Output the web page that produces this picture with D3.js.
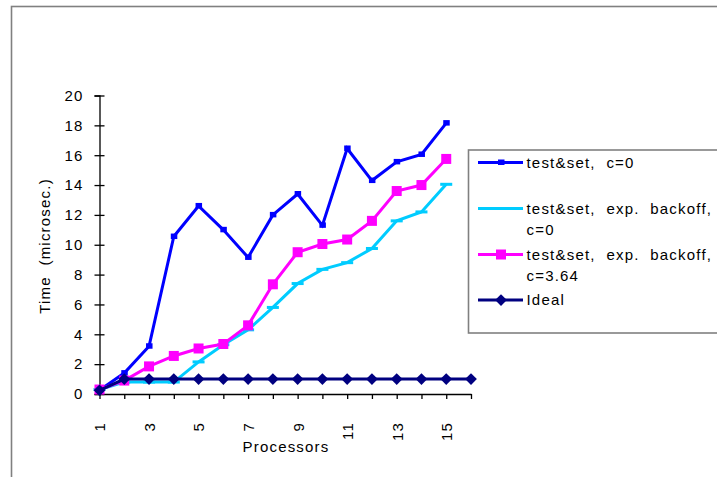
<!DOCTYPE html>
<html>
<head>
<meta charset="utf-8">
<script src="https://cdn.jsdelivr.net/npm/d3@7"></script>
<style>
  html, body { margin: 0; padding: 0; background: #fff; }
  svg { display: block; font-family: "Liberation Sans", Arial, sans-serif; }
  text { white-space: pre; }
</style>
</head>
<body>
<svg id="chart" width="717" height="477"></svg>
<script>
// ---- data ----
const categories = [1, 2, 3, 4, 5, 6, 7, 8, 9, 10, 11, 12, 13, 14, 15, 16];
const testSet = [0.25, 1.4, 3.2, 10.55, 12.6, 11.0, 9.15, 12.0, 13.4, 11.3, 16.45, 14.3, 15.55, 16.05, 18.15];
const expBackoff0 = [0.3, 0.8, 0.8, 0.8, 2.15, 3.3, 4.3, 5.8, 7.4, 8.35, 8.8, 9.75, 11.6, 12.2, 14.05];
const expBackoff364 = [0.3, 0.9, 1.85, 2.55, 3.05, 3.35, 4.6, 7.35, 9.5, 10.05, 10.35, 11.6, 13.6, 14.0, 15.75];
const ideal = [0.25, 1, 1, 1, 1, 1, 1, 1, 1, 1, 1, 1, 1, 1, 1, 1];
const yTicks = [0, 2, 4, 6, 8, 10, 12, 14, 16, 18, 20];
const xTickLabels = [1, 3, 5, 7, 9, 11, 13, 15];
const seriesNames = [["test&set,  c=0"], ["test&set,  exp.  backoff,", "c=0"], ["test&set,  exp.  backoff,", "c=3.64"], ["Ideal"]];

const series = [
  { name: seriesNames[0], values: testSet, color: "#0000FF", marker: "smallsquare" },
  { name: seriesNames[1], values: expBackoff0, color: "#00CCFF", marker: "dash" },
  { name: seriesNames[2], values: expBackoff364, color: "#FF00FF", marker: "square" },
  { name: seriesNames[3], values: ideal, color: "#000080", marker: "diamond" }
];

const svg = d3.select("#chart");
const FS = 15, LS = 1.2;

// outer frame
svg.append("rect").attr("x", 11.5).attr("y", 6.5).attr("width", 740).attr("height", 500)
  .attr("fill", "none").attr("stroke", "#808080").attr("stroke-width", 1.6);

const x = d3.scalePoint().domain(categories).range([99.5, 471]);
const y = d3.scaleLinear().domain([0, 20]).range([394, 95.5]);

// y axis
const yAxis = svg.append("g").attr("transform", "translate(99.5,0)")
  .call(d3.axisLeft(y).tickValues(yTicks).tickSize(5).tickPadding(11).tickFormat(d3.format("d")));
yAxis.select(".domain").attr("stroke", "#000").attr("stroke-width", 1.3);
yAxis.selectAll(".tick line").attr("x1", 5).attr("x2", -5).attr("stroke", "#000").attr("stroke-width", 1.3);
yAxis.selectAll(".tick text").attr("font-size", FS).attr("letter-spacing", LS).attr("fill", "#000")
  .attr("font-family", "Liberation Sans, Arial, sans-serif");

// x axis
const xAxis = svg.append("g").attr("transform", "translate(0,394)")
  .call(d3.axisBottom(x).tickSize(5).tickSizeOuter(0)
    .tickFormat(d => xTickLabels.includes(d) ? String(d) : ""));
xAxis.select(".domain").attr("stroke", "#000").attr("stroke-width", 1.3);
xAxis.selectAll(".tick line").attr("stroke", "#000").attr("stroke-width", 1.3);
xAxis.selectAll(".tick text")
  .attr("transform", "rotate(-90)")
  .attr("x", -28).attr("y", 0).attr("dy", "0.36em")
  .attr("text-anchor", "end")
  .attr("font-size", FS).attr("letter-spacing", LS).attr("fill", "#000")
  .attr("font-family", "Liberation Sans, Arial, sans-serif");

// axis titles
svg.append("text").attr("transform", "translate(50,246) rotate(-90)")
  .attr("text-anchor", "middle").attr("font-size", FS).attr("letter-spacing", LS)
  .text("Time  (microsec.)");
svg.append("text").attr("x", 286).attr("y", 452)
  .attr("text-anchor", "middle").attr("font-size", FS).attr("letter-spacing", LS)
  .text("Processors");

// markers
function drawMarker(g, type, color, cx, cy) {
  if (type === "smallsquare") {
    g.append("rect").attr("x", cx - 3).attr("y", cy - 3).attr("width", 6.5).attr("height", 5.5).attr("fill", color);
  } else if (type === "dash") {
    g.append("rect").attr("x", cx - 6).attr("y", cy - 1.5).attr("width", 12).attr("height", 3).attr("fill", color);
  } else if (type === "square") {
    g.append("rect").attr("x", cx - 5).attr("y", cy - 5).attr("width", 10).attr("height", 10).attr("fill", color);
  } else if (type === "diamond") {
    g.append("path").attr("d", d3.symbol().type(d3.symbolDiamond2).size(88)())
      .attr("transform", `translate(${cx},${cy})`).attr("fill", color);
  }
}

const line = d3.line().x((d, i) => x(categories[i])).y(d => y(d));
series.forEach(s => {
  const g = svg.append("g");
  g.append("path").attr("d", line(s.values)).attr("fill", "none")
    .attr("stroke", s.color).attr("stroke-width", 3).attr("stroke-linejoin", "miter");
  s.values.forEach((v, i) => drawMarker(g, s.marker, s.color, x(categories[i]), y(v)));
});

// legend
const lg = svg.append("g");
lg.append("rect").attr("x", 468.5).attr("y", 150).attr("width", 260).attr("height", 183)
  .attr("fill", "#fff").attr("stroke", "#808080").attr("stroke-width", 1.6);
const legendY = [162.5, 208.5, 254.5, 300];
series.forEach((s, i) => {
  const ly = legendY[i];
  lg.append("line").attr("x1", 478).attr("x2", 523).attr("y1", ly).attr("y2", ly)
    .attr("stroke", s.color).attr("stroke-width", 3);
  drawMarker(lg, s.marker === "dash" ? "none" : s.marker, s.color, 501, ly);
  const t = lg.append("text").attr("x", 526.5).attr("y", ly + 5)
    .attr("font-size", FS).attr("letter-spacing", LS).attr("fill", "#000");
  s.name.forEach((ln, k) => {
    t.append("tspan").attr("x", 526.5).attr("dy", k === 0 ? 0 : 21).text(ln);
  });
});
</script>
</body>
</html>
